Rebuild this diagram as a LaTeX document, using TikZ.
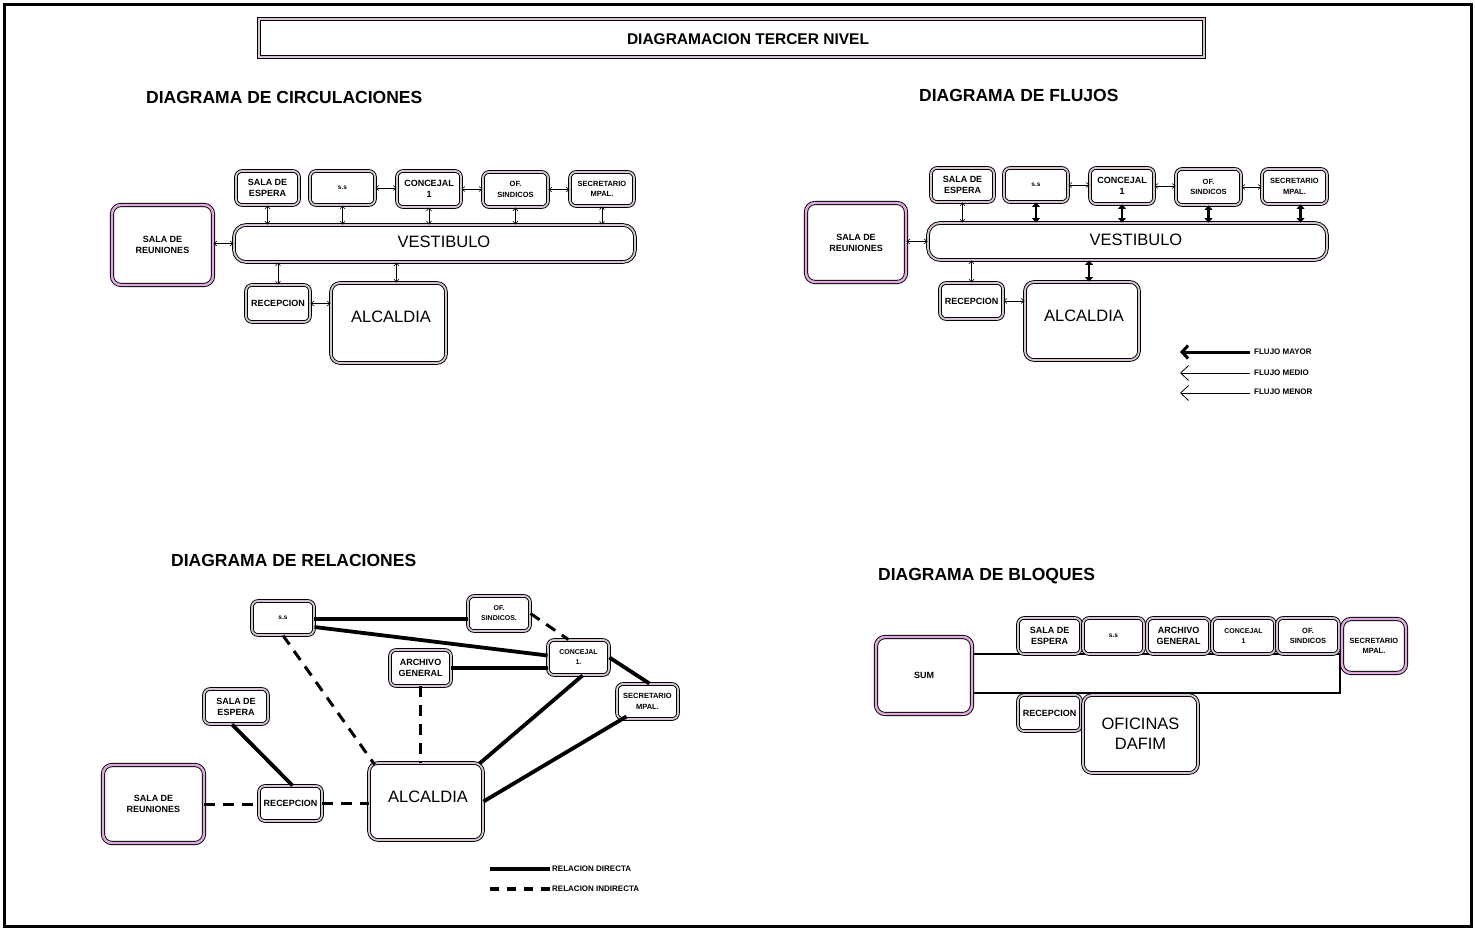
\documentclass[tikz,border=0pt]{standalone}
\usepackage{fontspec}
\setmainfont{Liberation Sans}
\usetikzlibrary{arrows.meta,calc}
\definecolor{pk}{RGB}{226,168,226}
\definecolor{lg}{RGB}{214,196,214}
\tikzset{
  rb/.style={draw=black, line width=0.9pt, double=lg, double distance=1.8pt,
    rounded corners=6pt, fill=white, inner sep=1pt, align=center},
  rbp/.style={rb, double=pk, double distance=2.4pt, rounded corners=9pt},
  wh/.style 2 args={minimum width=#1, minimum height=#2},
  sm/.style={font=\fontsize{9}{11}\selectfont\bfseries},
  xs/.style={font=\fontsize{7.5}{10.5}\selectfont\bfseries},
  xxs/.style={font=\fontsize{6.5}{8}\selectfont\bfseries},
  big/.style={font=\fontsize{16.5}{20}\selectfont, inner sep=0pt},
  sect/.style={font=\fontsize{17.5}{20}\selectfont\bfseries, anchor=west, inner sep=0pt},
  lgd/.style={font=\fontsize{8}{10}\selectfont\bfseries, anchor=west, inner sep=1pt},
  ta/.style={line width=0.6pt, {Straight Barb[length=3pt,width=5pt]}-{Straight Barb[length=3pt,width=5pt]}},
  tk/.style={line width=2.4pt, {Triangle[length=4.5pt,width=8pt]}-{Triangle[length=4.5pt,width=8pt]}},
  rs/.style={line width=3.8pt},
  rd/.style={line width=3pt, dash pattern=on 11pt off 8pt},
}
\begin{document}
\begin{tikzpicture}[x=1pt,y=-1pt]
\useasboundingbox (0,0) rectangle (1475,930);
% outer frame
\draw[line width=3pt] (4.5,4.5) rectangle (1471,926);
% title
\node[draw, line width=0.8pt, double=lg, double distance=1.8pt, wh={945}{38}] (title) at (731.5,38) {};
\node[font=\fontsize{15.5}{16}\selectfont\bfseries, inner sep=0pt] (titlet) at (748,39) {DIAGRAMACION TERCER NIVEL};

% ================= CIRCULACIONES =================
\node[sect] (t1) at (146,97) {DIAGRAMA DE CIRCULACIONES};
\node[rb, wh={401}{37}, rounded corners=12pt] (ves1) at (434.5,243.5) {};
\node[big] (ves1t) at (444,242) {VESTIBULO};
\node[rb, wh={63}{34}, sm] (se1) at (267.5,188) {SALA DE\\ESPERA};
\node[rb, wh={65}{34}, xxs] (ss1) at (342.5,188) {s.s};
\node[rb, wh={64}{36}, sm] (co1) at (429,189) {CONCEJAL\\1};
\node[rb, wh={65}{35}, xs] (of1) at (515.5,189.5) {OF.\\SINDICOS};
\node[rb, wh={64}{34}, xs] (sec1) at (602,189) {SECRETARIO\\MPAL.};
\node[rbp, wh={101}{80}, sm] (sr1) at (162.5,245) {SALA DE\\REUNIONES};
\node[rb, wh={64}{37}, sm] (re1) at (278,303.5) {RECEPCION};
\node[rb, wh={115}{80}, rounded corners=9pt] (al1) at (388.5,323) {};
\node[big] (al1t) at (391,317) {ALCALDIA};
\coordinate (a1) at ($(al1.north)+(8,0)$);
\draw[ta] (ss1.east) -- (co1.west |- ss1.east);
\draw[ta] (co1.east) -- (of1.west |- co1.east);
\draw[ta] (of1.east) -- (sec1.west |- of1.east);
\draw[ta] (se1.south) -- (se1.south |- ves1.north);
\draw[ta] (ss1.south) -- (ss1.south |- ves1.north);
\draw[ta] (co1.south) -- (co1.south |- ves1.north);
\draw[ta] (of1.south) -- (of1.south |- ves1.north);
\draw[ta] (sec1.south) -- (sec1.south |- ves1.north);
\draw[ta] (sr1.east |- ves1.west) -- (ves1.west);
\draw[ta] (re1.north) -- (re1.north |- ves1.south);
\draw[ta] (a1) -- (a1 |- ves1.south);
\draw[ta] (re1.east) -- (al1.west |- re1.east);

% ================= FLUJOS =================
\node[sect] (t2) at (919,95) {DIAGRAMA DE FLUJOS};
\node[rb, wh={399}{37}, rounded corners=12pt] (ves2) at (1127.5,241.5) {};
\node[big] (ves2t) at (1136,240) {VESTIBULO};
\node[rb, wh={63}{34}, sm] (se2) at (962.5,185) {SALA DE\\ESPERA};
\node[rb, wh={64}{34}, xxs] (ss2) at (1036,185) {s.s};
\node[rb, wh={64}{36}, sm] (co2) at (1122,186) {CONCEJAL\\1};
\node[rb, wh={65}{36}, xs] (of2) at (1208.5,187) {OF.\\SINDICOS};
\node[rb, wh={65}{35}, xs] (sec2) at (1294.5,186.5) {SECRETARIO\\MPAL.};
\node[rbp, wh={100}{79}, sm] (sr2) at (856,242.5) {SALA DE\\REUNIONES};
\node[rb, wh={63}{36}, sm] (re2) at (971.5,301) {RECEPCION};
\node[rb, wh={114}{78}, rounded corners=9pt] (al2) at (1082,321) {};
\node[big] (al2t) at (1084,316) {ALCALDIA};
\coordinate (b1) at ($(sec2.south)+(6,0)$);
\coordinate (b2) at ($(al2.north)+(7,0)$);
\draw[ta] (ss2.east) -- (co2.west |- ss2.east);
\draw[ta] (co2.east) -- (of2.west |- co2.east);
\draw[ta] (of2.east) -- (sec2.west |- of2.east);
\draw[ta] (se2.south) -- (se2.south |- ves2.north);
\draw[tk] (ss2.south) -- (ss2.south |- ves2.north);
\draw[tk] (co2.south) -- (co2.south |- ves2.north);
\draw[tk] (of2.south) -- (of2.south |- ves2.north);
\draw[tk] (b1) -- (b1 |- ves2.north);
\draw[ta] (sr2.east |- ves2.west) -- (ves2.west);
\draw[ta] (re2.north) -- (re2.north |- ves2.south);
\draw[tk] (b2) -- (b2 |- ves2.south);
\draw[ta] (re2.east) -- (al2.west |- re2.east);
% legend
\coordinate (fm1) at (1250,352); \coordinate (fm2) at (1180,352);
\coordinate (fd1) at (1250,373); \coordinate (fd2) at (1180,373);
\coordinate (fn1) at (1250,393); \coordinate (fn2) at (1180,393);
\draw[line width=3pt, -{Straight Barb[length=6pt,width=13pt,line width=3pt]}] (fm1) -- (fm2);
\draw[line width=0.8pt, -{Straight Barb[length=8pt,width=15pt,line width=0.8pt]}] (fd1) -- (fd2);
\draw[line width=0.8pt, -{Straight Barb[length=8pt,width=15pt,line width=0.8pt]}] (fn1) -- (fn2);
\node[lgd] (lfm) at (1253,352) {FLUJO MAYOR};
\node[lgd] (lfd) at (1253,373) {FLUJO MEDIO};
\node[lgd] (lfn) at (1253,392) {FLUJO MENOR};

% ================= RELACIONES =================
\node[sect] (t3) at (171,560) {DIAGRAMA DE RELACIONES};
\node[rb, wh={62}{34}, xxs] (ss3) at (283,618) {s.s};
\node[rb, wh={62}{35}, xs, font=\fontsize{7}{10}\selectfont\bfseries] (of3) at (499,613.5) {OF.\\SINDICOS.};
\node[rb, wh={61}{35}, xs, font=\fontsize{7}{10}\selectfont\bfseries] (co3) at (578.5,657.5) {CONCEJAL\\1.};
\node[rb, wh={61}{36}, sm] (ar3) at (420.5,668) {ARCHIVO\\GENERAL};
\node[rb, wh={61}{35}, xs] (sec3) at (647.5,701.5) {SECRETARIO\\MPAL.};
\node[rb, wh={64}{35}, sm] (se3) at (236,706.5) {SALA DE\\ESPERA};
\node[rbp, wh={101}{78}, sm] (sr3) at (153.5,804) {SALA DE\\REUNIONES};
\node[rb, wh={63}{35}, sm] (re3) at (290.5,803.5) {RECEPCION};
\node[rb, wh={114}{77}, rounded corners=9pt] (al3) at (426,801.5) {};
\node[big] (al3t) at (428,797) {ALCALDIA};
\coordinate (c1) at ($(ss3.east)+(0,1)$);
\draw[rs] (c1) -- (c1 -| of3.west);
\draw[rs] ($(ss3.east)+(0,9)$) -- ($(co3.west)+(0,-2)$);
\draw[rs] (ar3.east) -- (ar3.east -| co3.west);
\draw[rd] (of3.east) -- ($(co3.north)+(-10,0)$);
\draw[rs] (co3.east) -- ($(sec3.north)+(2,0)$);
\draw[rs] ($(co3.south)+(4,0)$) -- ($(al3.north east)+(-4,1)$);
\draw[rs] ($(sec3.south west)+(10,-3)$) -- (al3.east);
\draw[rd] (ss3.south) -- ($(al3.north west)+(6,2)$);
\draw[rd] (ar3.south) -- (ar3.south |- al3.north);
\draw[rs] ($(se3.south)+(-4,0)$) -- ($(re3.north)+(2,0)$);
\draw[rd] (sr3.east) -- (sr3.east -| re3.west);
\draw[rd] (re3.east) -- (re3.east -| al3.west);
% legend
\coordinate (rl1) at (490,869); \coordinate (rl2) at (550,869);
\coordinate (rl3) at (490,889); \coordinate (rl4) at (550,889);
\draw[line width=4.5pt] (rl1) -- (rl2);
\draw[line width=4.5pt, dash pattern=on 9pt off 8pt] (rl3) -- (rl4);
\node[lgd] (lrd) at (551,869) {RELACION DIRECTA};
\node[lgd] (lri) at (551,889) {RELACION INDIRECTA};

% ================= BLOQUES =================
\node[sect] (t4) at (878,576) {DIAGRAMA DE BLOQUES};
\node[draw, line width=1.8pt, wh={368}{39}] (hall4) at (1156,673.5) {};
\node[rbp, wh={96}{77}, sm] (sum4) at (924,675.5) {SUM};
\node[rb, wh={63}{36}, sm] (se4) at (1049.5,636) {SALA DE\\ESPERA};
\node[rb, wh={61}{36}, xxs] (ss4) at (1113.5,636) {s.s};
\node[rb, wh={63}{36}, sm] (ar4) at (1178.5,636) {ARCHIVO\\GENERAL};
\node[rb, wh={63}{36}, xs, font=\fontsize{7}{10}\selectfont\bfseries] (co4) at (1243.5,636) {CONCEJAL\\1};
\node[rb, wh={62}{36}, xs] (of4) at (1308,636) {OF.\\SINDICOS};
\node[rbp, wh={64}{54}, xs] (sec4) at (1374,646) {SECRETARIO\\MPAL.};
\node[rb, wh={63}{36}, sm] (re4) at (1049.5,713) {RECEPCION};
\node[rb, wh={115}{78}, rounded corners=9pt, big, inner sep=1pt] (odf4) at (1140.5,734) {OFICINAS\\DAFIM};
\end{tikzpicture}
\end{document}
